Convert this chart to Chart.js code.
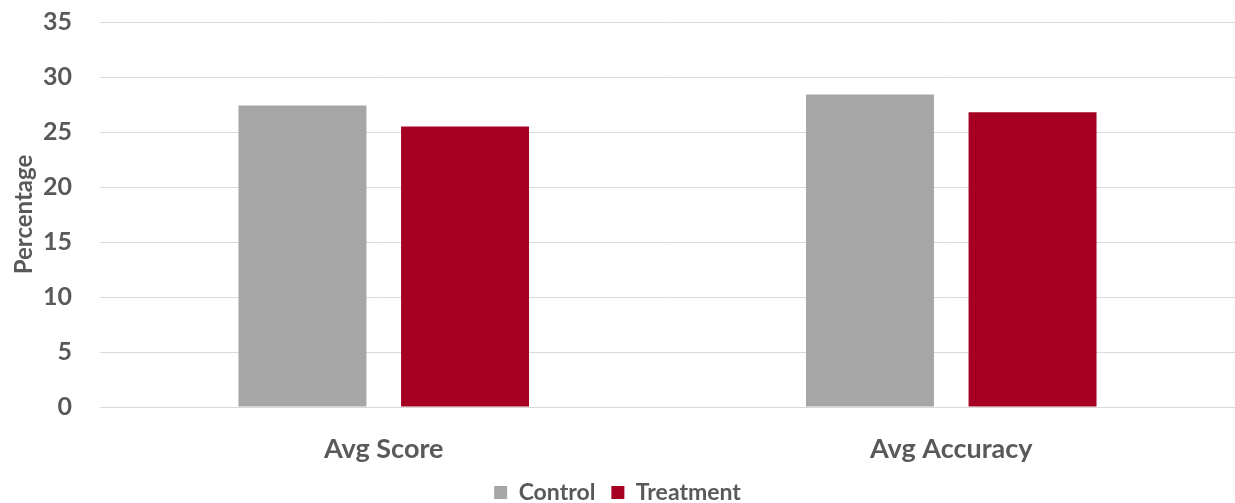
<!DOCTYPE html>
<html>
<head>
<meta charset="utf-8">
<script src="https://cdn.jsdelivr.net/npm/chart.js@4/dist/chart.umd.min.js"></script>
<style>
  html, body { margin: 0; padding: 0; background: #fff; overflow: hidden; }
  #wrap { width: 1235px; height: 514px; position: relative; }
</style>
</head>
<body>
<div id="wrap"><canvas id="c"></canvas></div>
<script>
const categories = ["Avg Score", "Avg Accuracy"];
const controlValues = [27.4, 28.4];
const treatmentValues = [25.5, 26.8];
const seriesNames = ["Control", "Treatment"];

const textColor = "#595959";
const fontFamily = "Lato, 'Open Sans', sans-serif";

new Chart(document.getElementById("c"), {
  type: "bar",
  data: {
    labels: categories,
    datasets: [
      { label: seriesNames[0], data: controlValues, backgroundColor: "#a6a6a6" },
      { label: seriesNames[1], data: treatmentValues, backgroundColor: "#a50021" }
    ]
  },
  options: {
    responsive: true,
    maintainAspectRatio: false,
    animation: false,
    layout: { padding: { left: 0, right: 0, top: 22, bottom: 0 } },
    datasets: { bar: { categoryPercentage: 0.573, barPercentage: 0.787 } },
    plugins: {
      tooltip: { enabled: false },
      legend: {
        position: "bottom",
        labels: {
          color: textColor,
          font: { family: fontFamily, size: 23, weight: "bold" },
          boxWidth: 13,
          boxHeight: 13,
          padding: 16
        }
      }
    },
    scales: {
      x: {
        grid: { display: false },
        border: { color: "#d9d9d9" },
        ticks: {
          color: textColor,
          font: { family: fontFamily, size: 27, weight: "bold" },
          padding: 18
        },
        afterFit(scale) { scale.height = 58; }
      },
      y: {
        min: 0,
        max: 35,
        ticks: {
          stepSize: 5,
          color: textColor,
          font: { family: fontFamily, size: 25, weight: "bold" },
          padding: 2
        },
        grid: { color: "#d9d9d9", drawTicks: true, tickLength: 26, tickColor: "rgba(0,0,0,0)" },
        border: { display: false },
        title: {
          display: true,
          text: "Percentage",
          color: textColor,
          font: { family: fontFamily, size: 24, weight: "bold" },
          padding: { top: 10, bottom: 0 }
        },
        afterFit(scale) { scale.width = 100; }
      }
    }
  }
});
</script>
</body>
</html>
